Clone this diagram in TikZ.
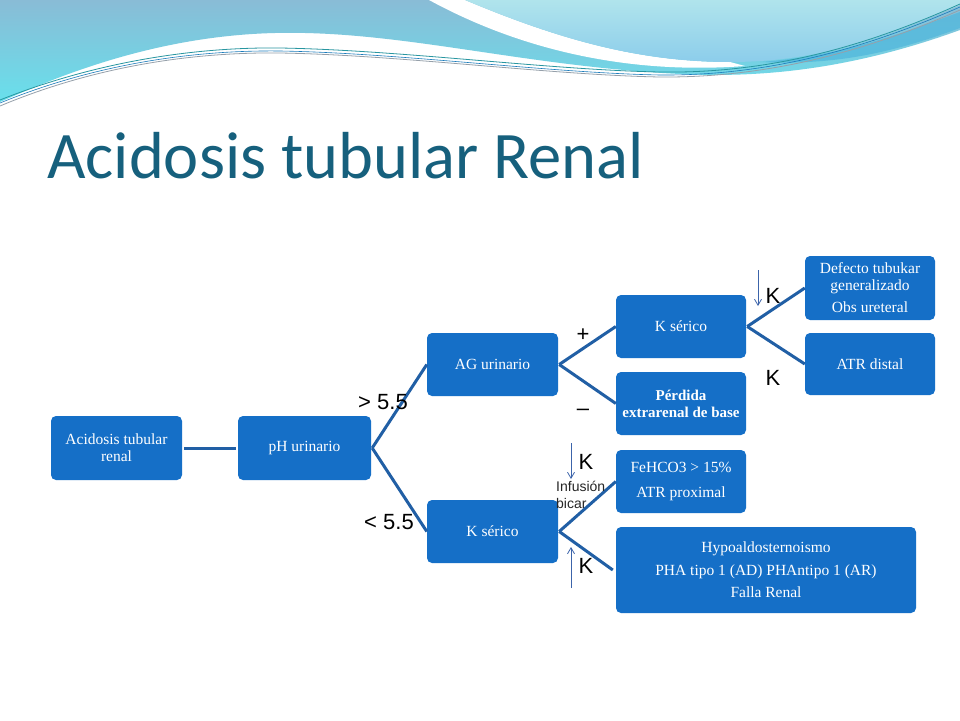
\documentclass[tikz,border=0pt]{standalone}
\usepackage{fontspec}
\setmainfont{Liberation Serif}
\newfontfamily\titlefont{Carlito}
\newfontfamily\labfont{Liberation Sans}
\usetikzlibrary{arrows.meta}
\definecolor{boxblue}{RGB}{21,111,199}
\definecolor{linkblue}{RGB}{33,95,165}
\definecolor{titleteal}{RGB}{22,96,125}
\definecolor{arrblue}{RGB}{60,100,170}
\definecolor{wavetop}{RGB}{137,188,214}
\definecolor{wavebot}{RGB}{104,224,236}
\definecolor{paletop}{RGB}{176,228,236}
\definecolor{palebot}{RGB}{140,205,235}
\definecolor{bandblue}{RGB}{78,182,220}
\definecolor{lineteal}{RGB}{40,150,160}
\definecolor{linegrey}{RGB}{150,160,170}
\begin{document}
\begin{tikzpicture}[x=1pt,y=-1pt,
  box/.style={fill=boxblue, rounded corners=5pt, text=white, align=center, inner sep=0pt, font=\fontsize{15.5}{17}\selectfont},
  link/.style={draw=linkblue, line width=3pt},
  lab/.style={font=\labfont\fontsize{22}{24}\selectfont, inner sep=0pt, text=black},
  small/.style={font=\labfont\fontsize{14}{16}\selectfont, inner sep=0pt, text=black!85, anchor=west},
  karrow/.style={draw=arrblue, line width=0.8pt, -{Straight Barb[length=6pt,width=7pt]}},
]
\useasboundingbox (0,0) rectangle (960,720);
\fill[white] (0,0) rectangle (960,720);
% background waves
\shade[top color=wavetop, bottom color=wavebot]
  (0,0) -- (960,0) -- (960,30) .. controls (850,70) and (760,78) .. (680,74)
  .. controls (520,66) and (400,30) .. (275,33)
  .. controls (150,36) and (50,80) .. (0,102) -- cycle;
\fill[white] (429,0) .. controls (530,55) and (640,74) .. (745,66)
  -- (730,62) .. controls (640,62) and (560,40) .. (465,0) -- cycle;
\shade[top color=paletop, bottom color=palebot]
  (465,0) .. controls (560,40) and (640,62) .. (730,62)
  .. controls (830,62) and (900,30) .. (960,5) -- (960,0) -- cycle;
\fill[bandblue, opacity=0.7] (760,62) .. controls (850,55) and (910,30) .. (960,12)
  -- (960,28) .. controls (900,50) and (840,66) .. (760,62) -- cycle;
\draw[lineteal, line width=0.8pt] (0,100) .. controls (100,60) and (200,47) .. (280,48)
  .. controls (400,50) and (550,70) .. (660,72) .. controls (780,74) and (880,40) .. (960,4);
\draw[linegrey, line width=0.8pt] (0,106) .. controls (100,64) and (200,52) .. (280,53)
  .. controls (400,55) and (550,75) .. (660,77) .. controls (780,78) and (880,45) .. (960,10);
\draw[boxblue!70!lineteal, line width=0.6pt] (0,103) .. controls (100,62) and (200,50) .. (280,51)
  .. controls (400,53) and (550,73) .. (660,75) .. controls (780,76) and (880,42) .. (960,7);
% title
\node[anchor=base west, inner sep=0pt, text=titleteal, font=\titlefont\fontsize{66.5}{70}\selectfont] (title) at (47,178) {Acidosis tubular Renal};
% boxes
\node[box, minimum width=131pt, minimum height=64pt] (a) at (116.5,448) {Acidosis tubular\\renal};
\node[box, minimum width=133pt, minimum height=64pt] (ph) at (304.5,448) {pH urinario};
\node[box, minimum width=131pt, minimum height=63pt] (ag) at (492.5,364.5) {AG urinario};
\node[box, minimum width=131pt, minimum height=63pt] (ks2) at (492.5,531.5) {K sérico};
\node[box, minimum width=130pt, minimum height=63pt] (ks1) at (681,326.5) {K sérico};
\node[box, minimum width=130pt, minimum height=63pt, font=\bfseries\fontsize{15}{17}\selectfont] (pe) at (681,403.5) {Pérdida\\extrarenal de base};
\node[box, minimum width=130pt, minimum height=64pt] (def) at (870,288) {Defecto tubukar\\generalizado\\[5pt]Obs ureteral};
\node[box, minimum width=130pt, minimum height=62pt] (atr) at (870,364) {ATR distal};
\node[box, minimum width=130pt, minimum height=63pt] (fe) at (681,481.5) {FeHCO3 > 15\%\\[8pt]ATR proximal};
\node[box, minimum width=300pt, minimum height=86pt] (hy) at (766,570) {Hypoaldosternoismo\\[6pt]PHA tipo 1 (AD) PHAntipo 1 (AR)\\[5pt]Falla Renal};
% connectors
\draw[link] ([xshift=2pt]a.east) -- ([xshift=-2pt]ph.west);
\draw[link] ([xshift=1pt]ph.east) -- (ag.west);
\draw[link] ([xshift=1pt]ph.east) -- (ks2.west);
\draw[link] ([xshift=1pt]ag.east) -- (ks1.west);
\draw[link] ([xshift=1pt]ag.east) -- (pe.west);
\draw[link] ([xshift=1pt]ks1.east) -- (def.west);
\draw[link] ([xshift=1pt]ks1.east) -- (atr.west);
\draw[link] ([xshift=1pt]ks2.east) -- (fe.west);
\draw[link] ([xshift=1pt]ks2.east) -- ([xshift=-3pt]hy.west);
% labels
\node[lab] (gt) at (383,402) {> 5.5};
\node[lab] (lt) at (389,522) {< 5.5};
\node[lab] (plus) at (583,335) {+};
\node[lab] (minus) at (583,412) {–};
\node[lab] (k1) at (773,296) {K};
\node[lab] (k2) at (773,378) {K};
\node[lab] (k3) at (586,462) {K};
\node[lab] (k4) at (586,566) {K};
\node[small] (inf) at (556,486) {Infusión};
\node[small] (bic) at (556,503) {bicar};
% small arrows
\coordinate (a1s) at (758,270); \coordinate (a1e) at (758,306);
\coordinate (a2s) at (571,443); \coordinate (a2e) at (571,479);
\coordinate (a3s) at (571,588); \coordinate (a3e) at (571,547);
\draw[karrow] (a1s) -- (a1e);
\draw[karrow] (a2s) -- (a2e);
\draw[karrow] (a3s) -- (a3e);
\end{tikzpicture}
\end{document}
